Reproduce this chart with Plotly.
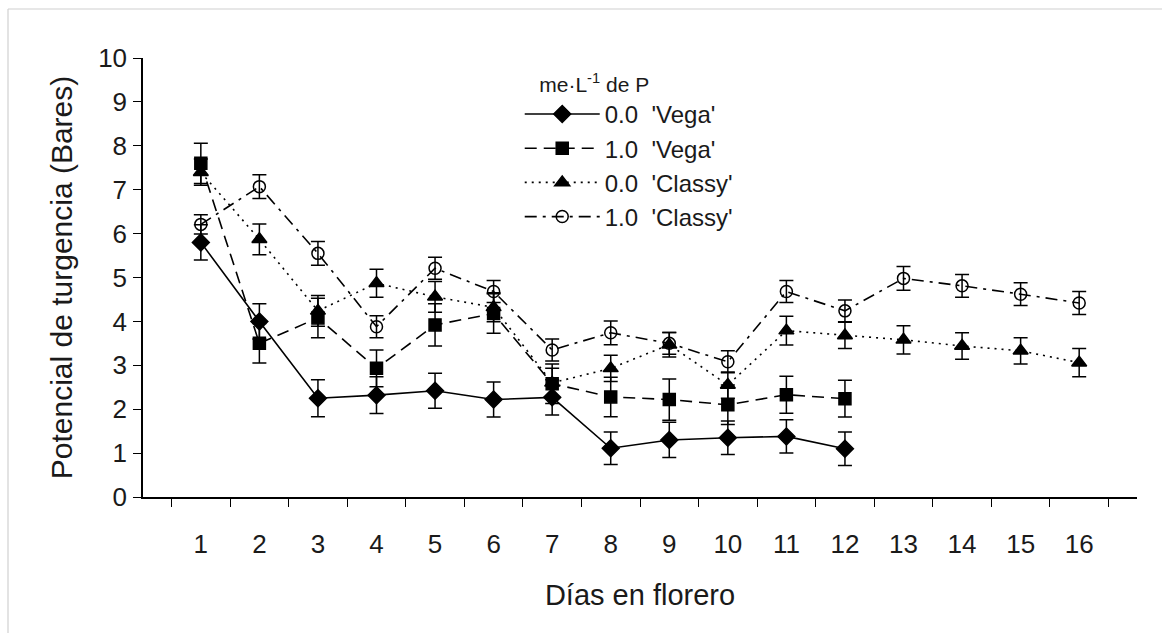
import plotly.graph_objects as go

days = [str(d) for d in range(1, 17)]

vega00 = [5.8, 4.0, 2.25, 2.32, 2.42, 2.22, 2.27, 1.11, 1.30, 1.35, 1.38, 1.10]
vega00_err = [0.4, 0.4, 0.42, 0.42, 0.4, 0.4, 0.4, 0.37, 0.4, 0.38, 0.38, 0.38]

vega10 = [7.6, 3.5, 4.08, 2.93, 3.92, 4.18, 2.58, 2.28, 2.22, 2.10, 2.33, 2.24]
vega10_err = [0.46, 0.45, 0.45, 0.42, 0.48, 0.45, 0.45, 0.45, 0.47, 0.45, 0.42, 0.42]

classy00 = [7.4, 5.87, 4.24, 4.87, 4.56, 4.32, 2.6, 2.93, 3.47, 2.55, 3.79, 3.68, 3.58, 3.44, 3.33, 3.06]
classy00_err = [0.3, 0.35, 0.35, 0.32, 0.35, 0.33, 0.33, 0.3, 0.28, 0.3, 0.33, 0.3, 0.32, 0.3, 0.3, 0.32]

classy10 = [6.21, 7.07, 5.55, 3.88, 5.21, 4.68, 3.35, 3.74, 3.50, 3.08, 4.68, 4.24, 4.98, 4.81, 4.62, 4.42]
classy10_err = [0.22, 0.27, 0.27, 0.25, 0.25, 0.25, 0.25, 0.27, 0.25, 0.25, 0.25, 0.25, 0.27, 0.26, 0.26, 0.26]

names = ["0.0  'Vega'", "1.0  'Vega'", "0.0  'Classy'", "1.0  'Classy'"]
series = [vega00, vega10, classy00, classy10]
errs = [vega00_err, vega10_err, classy00_err, classy10_err]
dashes = ["solid", "12px,7px", "2px,5px", "12px,6px,3px,6px"]
symbols = ["diamond", "square", "triangle-up", "circle-open"]
msizes = [13, 12, 13, 12]

fig = go.Figure()
for i in range(4):
    y = series[i]
    fig.add_trace(go.Scatter(
        x=days[:len(y)], y=y, name=names[i], mode="lines+markers",
        line=dict(color="black", width=1.6, dash=dashes[i]),
        marker=dict(symbol=symbols[i], size=msizes[i], color="black",
                    line=dict(color="black", width=1.5)),
        error_y=dict(type="data", array=errs[i], visible=True,
                     color="black", thickness=1.5, width=7),
        legendgroup=str(i),
    ))

font = "Liberation Sans, Arial, sans-serif"
fig.update_layout(
    width=1162, height=633,
    margin=dict(l=143, r=25, t=58, b=136),
    paper_bgcolor="white", plot_bgcolor="white",
    font=dict(family=font, size=25, color="#1a1a1a"),
    showlegend=True,
    legend=dict(
        x=0.379, y=0.985, xanchor="left", yanchor="top",
        bgcolor="rgba(0,0,0,0)",
        title=dict(text="&nbsp;&nbsp;&nbsp;me·L<sup>-1</sup> de P", font=dict(size=21)),
        font=dict(size=24), traceorder="grouped", tracegroupgap=0,
        itemwidth=75,
    ),
    xaxis=dict(
        type="category", categoryorder="array", categoryarray=days,
        tickson="boundaries", ticks="outside", ticklen=8, tickwidth=1.2,
        tickcolor="black", showline=True, linecolor="black", linewidth=1.5,
        showgrid=False, zeroline=False, ticklabelstandoff=23,
        tickfont=dict(size=26),
        title=dict(text="Días en florero", standoff=27, font=dict(size=29)),
    ),
    yaxis=dict(
        range=[0, 10], tickmode="linear", tick0=0, dtick=1,
        ticks="outside", ticklen=8, tickwidth=1.2, tickcolor="black",
        showline=True, linecolor="black", linewidth=1.5,
        showgrid=False, zeroline=False, ticklabelstandoff=1,
        tickfont=dict(size=26),
        title=dict(text="Potencial de turgencia (Bares)", standoff=17, font=dict(size=30)),
    ),
)

# light frame (top and left edges) around the figure
fig.add_shape(type="line", xref="paper", yref="paper",
              x0=-135 / 994, x1=1.03, y0=1 + 49 / 439, y1=1 + 49 / 439,
              line=dict(color="#d0d0d0", width=1.2))
fig.add_shape(type="line", xref="paper", yref="paper",
              x0=-135 / 994, x1=-135 / 994, y0=1 + 49 / 439, y1=-0.32,
              line=dict(color="#d0d0d0", width=1.2))

fig.write_html("out.html")
